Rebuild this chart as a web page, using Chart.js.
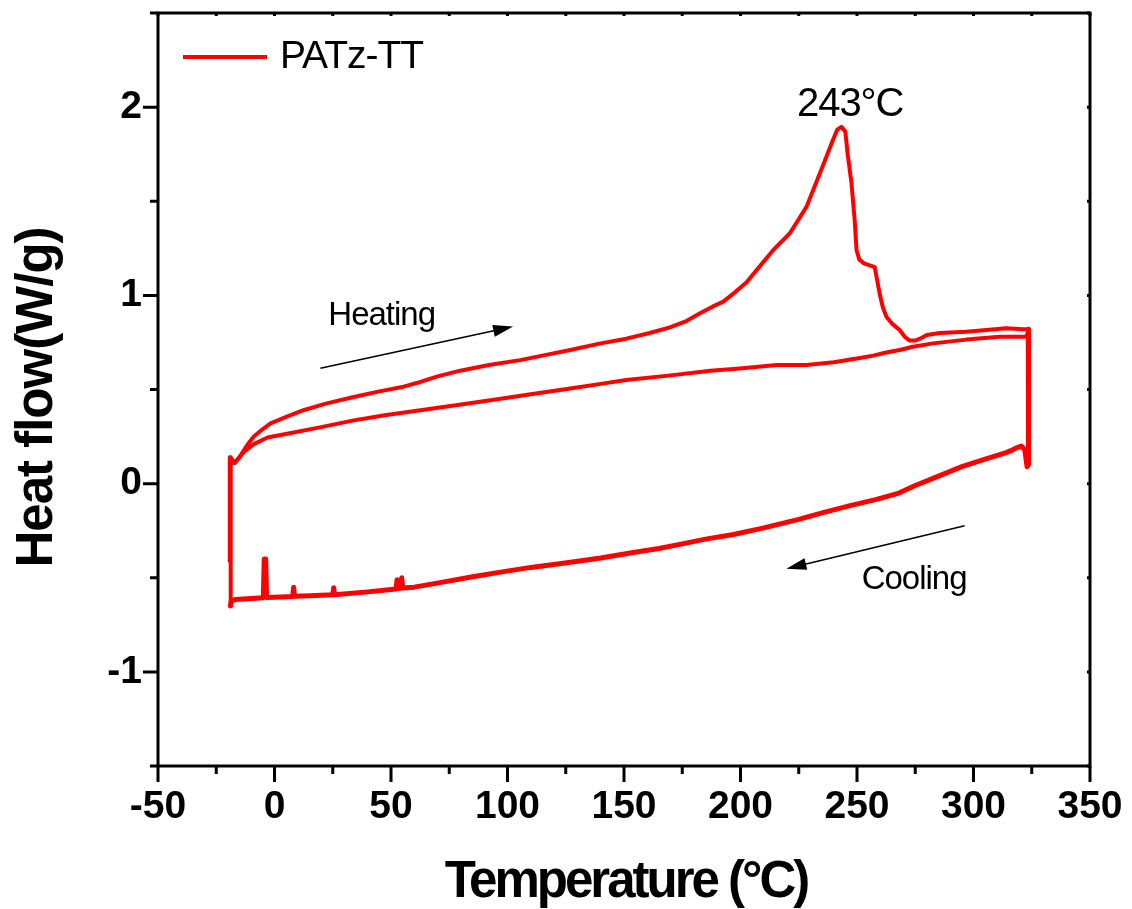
<!DOCTYPE html>
<html lang="en">
<head>
<meta charset="UTF-8">
<title>PATz-TT DSC</title>
<script src="https://cdn.jsdelivr.net/npm/chart.js"></script>
<style>
  html, body { margin: 0; padding: 0; background: #fff; }
  #wrap { width: 1132px; height: 909px; }
</style>
</head>
<body>
<div id="wrap"><canvas id="dsc" width="1132" height="909"></canvas></div>
<script>
// first heating run (with melting peak)
const heat1T = [-19.3, -19.2, -18.3, -17.0, -15, -12, -8.9, -5, -1.7, 5, 12.4, 22, 34, 45, 55.4, 62.6, 70, 79.7, 92, 105.4,
  115, 126.9, 140, 151, 161, 169.7, 177, 182.6, 188, 192.6, 198, 202.6, 208, 214, 221.2, 228.3, 235.4, 239.5, 241.5, 243.3,
  245.0, 246, 247.6, 249, 249.8, 251, 253, 257.6, 259.7, 261, 262.6, 265, 268.3, 270.5, 272.6, 275, 277, 280, 285.5, 296.9,
  305.5, 314, 321.2, 323.3];
const heat1H = [-0.41, 0.14, 0.13, 0.11, 0.14, 0.20, 0.25, 0.29, 0.32, 0.355, 0.39, 0.425, 0.46, 0.49, 0.515, 0.54, 0.57, 0.60, 0.63, 0.656,
  0.68, 0.71, 0.745, 0.77, 0.80, 0.83, 0.865, 0.905, 0.94, 0.967, 1.02, 1.07, 1.15, 1.24, 1.33, 1.47, 1.69, 1.82, 1.88, 1.895,
  1.87, 1.75, 1.60, 1.40, 1.24, 1.19, 1.17, 1.15, 1.01, 0.94, 0.887, 0.85, 0.816, 0.78, 0.76, 0.76, 0.77, 0.79, 0.80, 0.807,
  0.816, 0.825, 0.82, 0.82];

// cooling run
const coolT = [323.5, 323.6, 323, 322, 320.5, 318.5, 316, 314, 305, 295, 285, 275, 268, 258, 247, 235, 225, 210, 197, 185,
  175, 165, 154, 140, 125.5, 110, 97, 85, 71, 60, 55, 54.6, 54.2, 53.0, 52.6, 52.2, 40, 25.8, 25.4, 25.0,
  15, 8.6, 8.2, 7.8, 0, -3.4, -3.8, -4.4, -4.8, -10, -16.7, -18.6, -18.9];
const coolH = [0.82, 0.10, 0.09, 0.18, 0.20, 0.19, 0.175, 0.165, 0.13, 0.09, 0.04, -0.01, -0.05, -0.085, -0.117, -0.155, -0.19, -0.235, -0.27, -0.295,
  -0.32, -0.345, -0.366, -0.395, -0.42, -0.445, -0.47, -0.495, -0.526, -0.55, -0.555, -0.50, -0.556, -0.557, -0.51, -0.56, -0.575, -0.59, -0.553, -0.59,
  -0.595, -0.598, -0.55, -0.60, -0.603, -0.605, -0.40, -0.40, -0.606, -0.61, -0.615, -0.625, -0.65];

// second heating run
const heat2T = [-18.9, -18.8, -17.8, -16.5, -13, -8.9, -3, 5.4, 20, 34, 48, 62.6, 77, 91.2, 110, 126.9, 140, 151, 170, 187,
  199.7, 215.5, 228.3, 240, 251.2, 257, 262, 268.3, 274, 282.6, 297, 311.2, 322.6, 323.3];
const heat2H = [-0.65, 0.14, 0.11, 0.12, 0.17, 0.21, 0.245, 0.265, 0.30, 0.336, 0.365, 0.39, 0.415, 0.44, 0.475, 0.505, 0.53, 0.55, 0.575, 0.60,
  0.612, 0.63, 0.63, 0.645, 0.667, 0.68, 0.695, 0.71, 0.727, 0.745, 0.765, 0.78, 0.78, 0.80];

const seriesName = 'PATz-TT';
const yLabels = ['-1', '0', '1', '2'];
const xLabels = ['-50', '0', '50', '100', '150', '200', '250', '300', '350'];

// annotations (data coordinates)
const noteText = ['243\u00B0C', 'Heating', 'Cooling'];
const noteT = [224.2, 23.1, 252];
const noteH = [1.952, 0.843, -0.56];
// arrows: start -> tip
const arrowFromT = [19.7, 296.2];
const arrowFromH = [0.613, -0.224];
const arrowToT = [102.4, 219.7];
const arrowToH = [0.834, -0.452];

const FONT = '"Liberation Sans", Arial, sans-serif';
const pts = (xs, ys) => xs.map((x, i) => ({ x: x, y: ys[i] }));

const decor = {
  id: 'decor',
  afterDraw(chart) {
    const ctx = chart.ctx;
    const a = chart.chartArea;
    const xs = chart.scales.x, ys = chart.scales.y;
    ctx.save();
    ctx.strokeStyle = '#000';
    ctx.fillStyle = '#000';
    ctx.lineWidth = 3;
    ctx.strokeRect(a.left, a.top, a.right - a.left, a.bottom - a.top);

    // tick marks
    ctx.beginPath();
    for (let v = -50; v <= 350; v += 25) {
      const px = xs.getPixelForValue(v);
      const major = v % 50 === 0;
      ctx.moveTo(px, a.bottom); ctx.lineTo(px, a.bottom + (major ? 16 : 8));
      ctx.moveTo(px, a.top); ctx.lineTo(px, a.top + 3);
    }
    for (let v = -1.5; v <= 2.5; v += 0.5) {
      const py = ys.getPixelForValue(v);
      const major = Math.abs(v % 1) < 1e-6;
      ctx.moveTo(a.left, py); ctx.lineTo(a.left - (major ? 15 : 8), py);
      ctx.moveTo(a.right, py); ctx.lineTo(a.right - 3, py);
    }
    ctx.stroke();

    // axis titles
    ctx.textAlign = 'center';
    ctx.textBaseline = 'alphabetic';
    ctx.font = 'bold 51px ' + FONT;
    ctx.letterSpacing = '-3px';
    ctx.fillText('Temperature (\u00B0C)', (a.left + a.right) / 2 + 2, 897);
    ctx.save();
    ctx.translate(52, (a.top + a.bottom) / 2 + 8);
    ctx.rotate(-Math.PI / 2);
    ctx.letterSpacing = '-1px';
    ctx.fillText('Heat flow(W/g)', 0, 0);
    ctx.restore();

    // legend
    ctx.strokeStyle = '#ff0000';
    ctx.lineWidth = 4;
    ctx.beginPath();
    ctx.moveTo(a.left + 25, a.top + 44);
    ctx.lineTo(a.left + 109, a.top + 44);
    ctx.stroke();
    ctx.textAlign = 'left';
    ctx.font = '39px ' + FONT;
    ctx.letterSpacing = '-1px';
    ctx.fillText(seriesName, a.left + 122, a.top + 55);

    // annotations
    const sizes = [40, 33, 33];
    noteText.forEach((t, i) => {
      ctx.font = sizes[i] + 'px ' + FONT;
      ctx.letterSpacing = '-1px';
      ctx.fillText(t, xs.getPixelForValue(noteT[i]), ys.getPixelForValue(noteH[i]));
    });

    // arrows
    ctx.strokeStyle = '#000';
    ctx.lineWidth = 1.5;
    arrowFromT.forEach((t, i) => {
      const x0 = xs.getPixelForValue(t), y0 = ys.getPixelForValue(arrowFromH[i]);
      const x1 = xs.getPixelForValue(arrowToT[i]), y1 = ys.getPixelForValue(arrowToH[i]);
      const ang = Math.atan2(y1 - y0, x1 - x0);
      ctx.beginPath();
      ctx.moveTo(x0, y0);
      ctx.lineTo(x1 - 15 * Math.cos(ang), y1 - 15 * Math.sin(ang));
      ctx.stroke();
      ctx.beginPath();
      ctx.moveTo(x1, y1);
      ctx.lineTo(x1 - 20 * Math.cos(ang) + 6 * Math.sin(ang), y1 - 20 * Math.sin(ang) - 6 * Math.cos(ang));
      ctx.lineTo(x1 - 20 * Math.cos(ang) - 6 * Math.sin(ang), y1 - 20 * Math.sin(ang) + 6 * Math.cos(ang));
      ctx.closePath();
      ctx.fill();
    });
    ctx.restore();
  }
};

const lineDs = (label, data, w) => ({
  label: label, data: data, showLine: true, borderColor: '#ff0000', backgroundColor: '#ff0000',
  borderWidth: w, pointRadius: 0, tension: 0, borderJoinStyle: 'round', borderCapStyle: 'round'
});

new Chart(document.getElementById('dsc'), {
  type: 'scatter',
  data: {
    datasets: [
      lineDs(seriesName, pts(heat1T, heat1H), 4),
      lineDs('cooling', pts(coolT, coolH), 5),
      lineDs('heating 2', pts(heat2T, heat2H), 4)
    ]
  },
  options: {
    responsive: false,
    animation: false,
    devicePixelRatio: 1,
    layout: { padding: { top: 13, right: 42, left: 0, bottom: 0 } },
    plugins: { legend: { display: false }, tooltip: { enabled: false } },
    scales: {
      x: {
        type: 'linear', min: -50, max: 350,
        afterFit: s => { s.height = 143; s.paddingLeft = 0; s.paddingRight = 0; },
        border: { display: false },
        grid: { drawOnChartArea: false, drawTicks: true, tickLength: 16, tickColor: 'rgba(0,0,0,0)', color: 'rgba(0,0,0,0)' },
        ticks: {
          stepSize: 25, autoSkip: false, maxRotation: 0, padding: 2, color: '#000',
          font: { family: FONT, size: 39, weight: 'bold' },
          callback: v => (v % 50 === 0 ? xLabels[(v + 50) / 50] : '')
        }
      },
      y: {
        type: 'linear', min: -1.5, max: 2.5,
        afterFit: s => { s.width = 158; s.paddingTop = 0; s.paddingBottom = 0; },
        border: { display: false },
        grid: { drawOnChartArea: false, drawTicks: true, tickLength: 15, tickColor: 'rgba(0,0,0,0)', color: 'rgba(0,0,0,0)' },
        ticks: {
          stepSize: 0.5, autoSkip: false, padding: 1, color: '#000',
          font: { family: FONT, size: 39, weight: 'bold' },
          callback: v => (Number.isInteger(v) ? yLabels[v + 1] : '')
        }
      }
    }
  },
  plugins: [decor]
});
</script>
</body>
</html>
